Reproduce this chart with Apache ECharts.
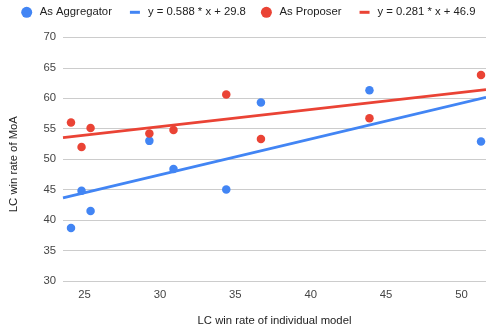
<!DOCTYPE html>
<html>
<head>
<meta charset="utf-8">
<script src="https://cdn.jsdelivr.net/npm/echarts@6/dist/echarts.min.js"></script>
<style>html,body{margin:0;padding:0;background:#fff}#c{width:486px;height:331px}</style>
</head>
<body>
<div id="c"></div>
<script>
const individual = [24.1, 24.8, 25.4, 29.3, 30.9, 34.4, 36.7, 43.9, 51.3];
const asAggregator = [38.7, 44.8, 41.5, 53.0, 48.4, 45.0, 59.3, 61.3, 52.9];
const asProposer = [56.0, 52.0, 55.1, 54.2, 54.8, 60.6, 53.3, 56.7, 63.8];
const slopes = [0.588, 0.281];
const intercepts = [29.8, 46.9];
const xTicks = [25, 30, 35, 40, 45, 50];
const xRange = [23.57, 51.63];

const BLUE = '#4285F4', RED = '#EA4335';
const FONT = 'Liberation Sans, Arial, sans-serif';
const trendName = i => 'y = ' + slopes[i].toFixed(3) + ' * x + ' + intercepts[i].toFixed(1);
const trendData = i => xRange.map(x => [x, slopes[i] * x + intercepts[i]]);
const lineIcon = 'path://M0,0M16,11M3,4h10v3h-10z';

const chart = echarts.init(document.getElementById('c'));
chart.setOption({
  animation: false,
  textStyle: {fontFamily: FONT},
  grid: {left: 61.7, right: 0, top: 37.3, bottom: 48.3},
  legend: {
    left: 21.2, top: 6.8, padding: 0, itemWidth: 16, itemHeight: 11, itemGap: 15,
    textStyle: {fontSize: 11.3, color: '#222', fontFamily: FONT},
    itemStyle: {borderWidth: 0},
    data: [
      {name: 'As Aggregator', icon: 'circle'},
      {name: trendName(0), icon: lineIcon},
      {name: 'As Proposer', icon: 'circle'},
      {name: trendName(1), icon: lineIcon}
    ]
  },
  xAxis: {
    type: 'value', min: xRange[0], max: xRange[1],
    name: 'LC win rate of individual model', nameLocation: 'middle', nameGap: 34,
    nameTextStyle: {fontSize: 11.3, color: '#222', fontFamily: FONT},
    axisLine: {show: false}, axisTick: {show: false}, splitLine: {show: false},
    axisLabel: {customValues: xTicks, fontSize: 11.3, color: '#444', margin: 8, fontFamily: FONT}
  },
  yAxis: {
    type: 'value', min: 30, max: 70, interval: 5,
    name: 'LC win rate of MoA', nameLocation: 'middle', nameGap: 44,
    nameTextStyle: {fontSize: 11.3, color: '#222', fontFamily: FONT, padding: [0, 10, 0, 0]},
    axisLine: {show: false}, axisTick: {show: false},
    splitLine: {lineStyle: {color: '#cccccc', width: 1}},
    axisLabel: {fontSize: 11.3, color: '#444', margin: 7, fontFamily: FONT}
  },
  series: [
    {name: trendName(0), type: 'line', data: trendData(0), showSymbol: false, symbol: 'none',
     lineStyle: {color: BLUE, width: 2.8}, itemStyle: {color: BLUE}, z: 2},
    {name: trendName(1), type: 'line', data: trendData(1), showSymbol: false, symbol: 'none',
     lineStyle: {color: RED, width: 2.8}, itemStyle: {color: RED}, z: 2},
    {name: 'As Aggregator', type: 'scatter', symbolSize: 8.5,
     data: individual.map((x, i) => [x, asAggregator[i]]), itemStyle: {color: BLUE, opacity: 1}, z: 3},
    {name: 'As Proposer', type: 'scatter', symbolSize: 8.5,
     data: individual.map((x, i) => [x, asProposer[i]]), itemStyle: {color: RED, opacity: 1}, z: 3}
  ]
});
</script>
</body>
</html>
